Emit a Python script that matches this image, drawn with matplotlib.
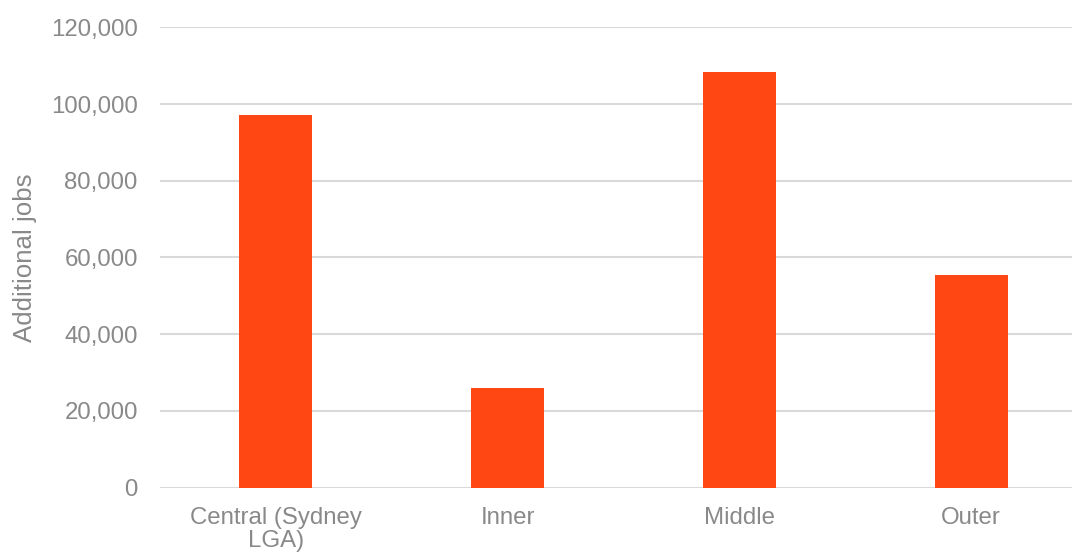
import matplotlib
matplotlib.use("Agg")
import matplotlib.pyplot as plt
from matplotlib.ticker import FuncFormatter

categories = ["Central (Sydney\nLGA)", "Inner", "Middle", "Outer"]
additional_jobs = [97100, 26000, 108300, 55300]
y_ticks = [0, 20000, 40000, 60000, 80000, 100000, 120000]

plt.rcParams['font.family'] = ['Liberation Sans', 'DejaVu Sans']
text_color = "#898989"
grid_color = "#d9d9d9"
bar_color = "#FF4714"

fig = plt.figure(figsize=(10.72, 5.54), dpi=100)
ax = fig.add_axes([160/1072, 66.4/554, 927/1072, 460.3/554])

x = range(len(categories))
ax.bar(x, additional_jobs, width=0.315, color=bar_color, zorder=3)

ax.set_xlim(-0.5, len(categories) - 0.5)
ax.set_ylim(0, 120000)
ax.set_yticks(y_ticks)
ax.yaxis.set_major_formatter(FuncFormatter(lambda v, p: f"{int(v):,}"))
ax.set_xticks(list(x))
ax.set_xticklabels(categories, linespacing=1.05)

ax.grid(axis='y', color=grid_color, linewidth=1.5, zorder=0)
ax.set_axisbelow(True)
for s in ax.spines.values():
    s.set_visible(False)

fs = 17.3
ax.tick_params(axis='y', length=0, pad=16, labelsize=fs, labelcolor=text_color)
ax.tick_params(axis='x', length=0, pad=14, labelsize=fs, labelcolor=text_color)

ax.set_ylabel("Additional jobs", fontsize=18.6, color=text_color)
ax.yaxis.set_label_coords(-0.1327, 0.5)

fig.savefig("out.png", dpi=100)
